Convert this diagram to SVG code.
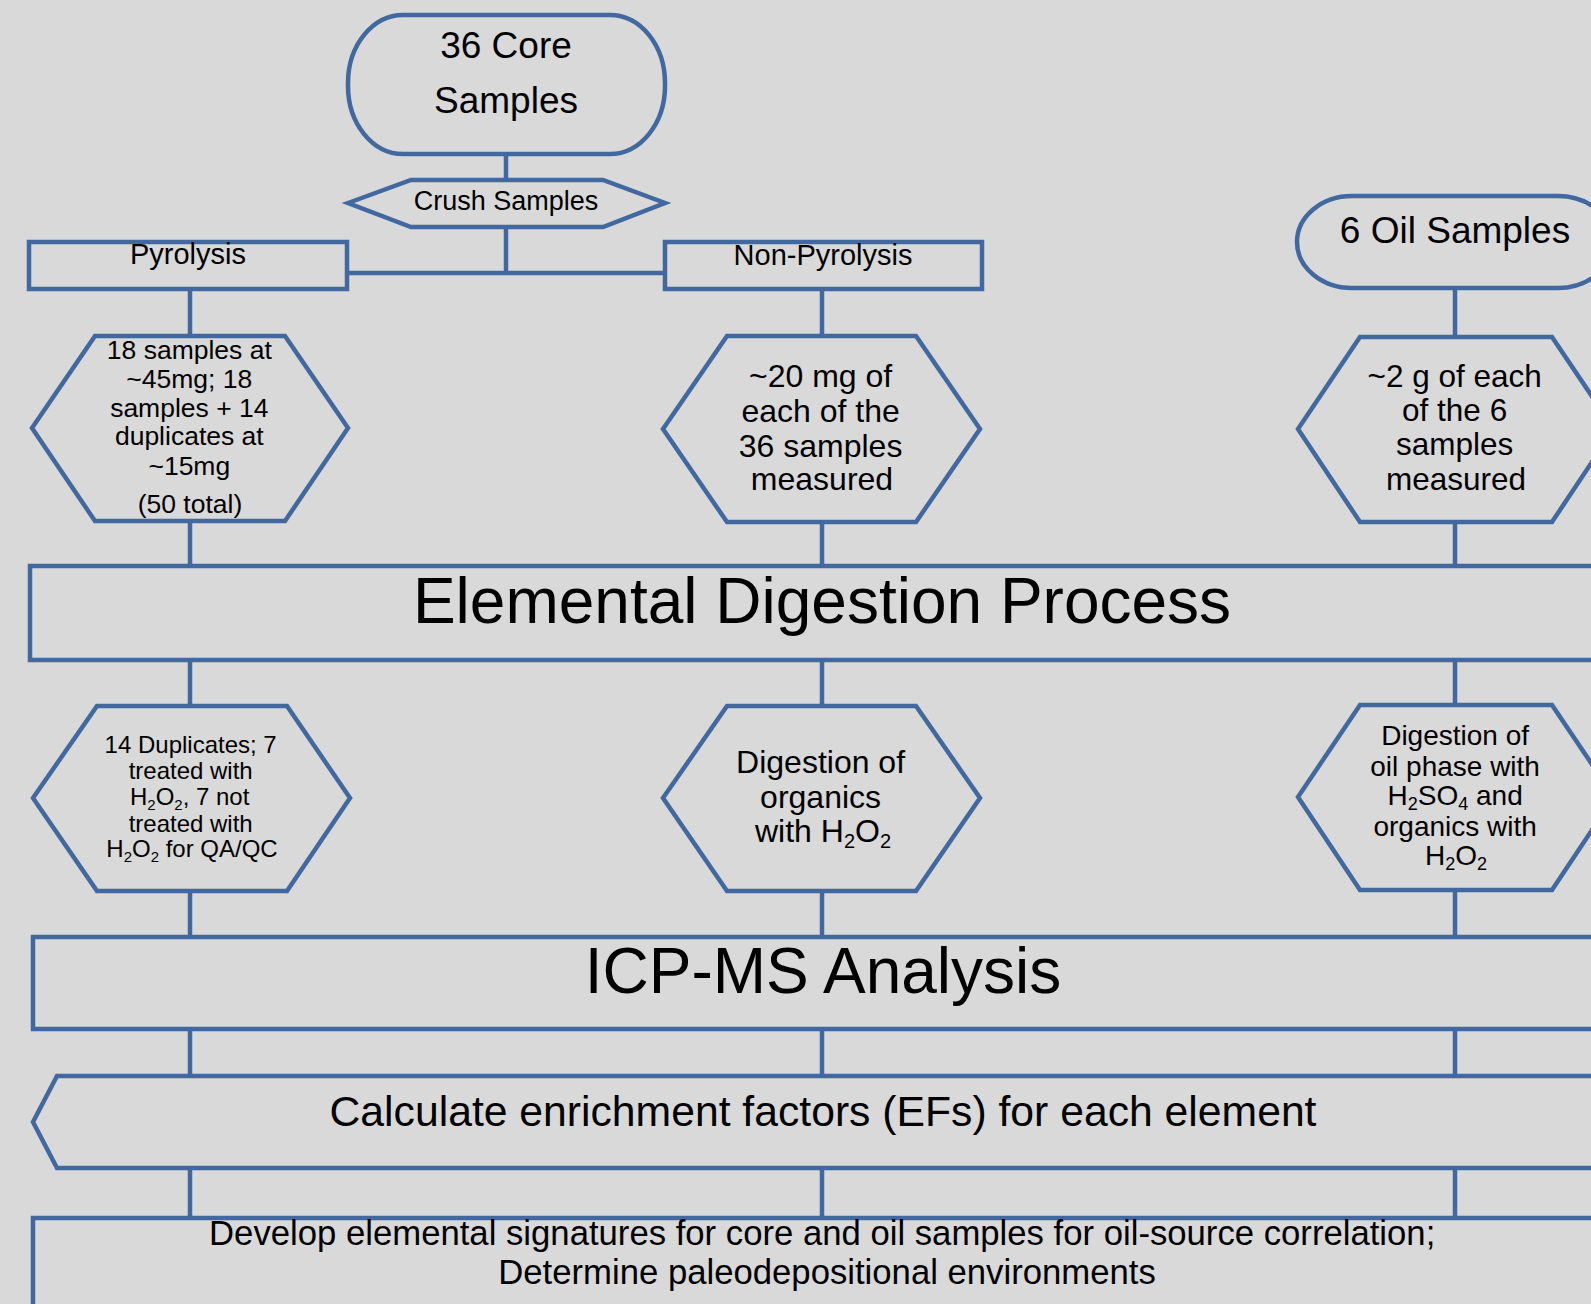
<svg xmlns="http://www.w3.org/2000/svg" width="1591" height="1304" viewBox="0 0 1591 1304">
<style>
.s{fill:#d9d9d9;stroke:#41699f;stroke-width:4.5;stroke-linejoin:miter}
.c line{stroke:#41699f;stroke-width:4.5}
text{font-family:"Liberation Sans",Arial,sans-serif;fill:#000;text-anchor:middle}
</style>
<rect width="1591" height="1304" fill="#d9d9d9"/>
<g class="c" id="connectors">
<line x1="506" y1="154" x2="506" y2="180"/>
<line x1="506" y1="227" x2="506" y2="273"/>
<line x1="347" y1="273" x2="665" y2="273"/>
<line x1="190" y1="290" x2="190" y2="336"/>
<line x1="822" y1="290" x2="822" y2="336"/>
<line x1="1455" y1="288" x2="1455" y2="337"/>
<line x1="190" y1="521" x2="190" y2="566"/>
<line x1="822" y1="522" x2="822" y2="566"/>
<line x1="1455" y1="522" x2="1455" y2="566"/>
<line x1="190" y1="660" x2="190" y2="706"/>
<line x1="822" y1="660" x2="822" y2="706"/>
<line x1="1455" y1="660" x2="1455" y2="705"/>
<line x1="190" y1="891" x2="190" y2="937"/>
<line x1="822" y1="891" x2="822" y2="937"/>
<line x1="1455" y1="890" x2="1455" y2="937"/>
<line x1="190" y1="1029" x2="190" y2="1076"/>
<line x1="822" y1="1029" x2="822" y2="1076"/>
<line x1="1455" y1="1029" x2="1455" y2="1076"/>
<line x1="190" y1="1168" x2="190" y2="1218"/>
<line x1="822" y1="1168" x2="822" y2="1218"/>
<line x1="1455" y1="1168" x2="1455" y2="1218"/>
</g>
<g id="core">
<rect class="s" x="348" y="15" width="317" height="139" rx="55" ry="68"/>
<text x="506" y="58" font-size="37">36 Core</text>
<text x="506" y="113" font-size="37">Samples</text>
</g>
<g id="crush">
<polygon class="s" points="348,203 411,180 603,180 665,203 603,227 411,227"/>
<text x="506" y="210" font-size="27">Crush Samples</text>
</g>
<g id="pyrolysis">
<rect class="s" x="29" y="242" width="318" height="47"/>
<text x="188" y="264" font-size="29">Pyrolysis</text>
</g>
<g id="nonpyrolysis">
<rect class="s" x="665" y="242" width="317" height="47"/>
<text x="823" y="265" font-size="29">Non-Pyrolysis</text>
</g>
<g id="oil">
<rect class="s" x="1297" y="196" width="316" height="92" rx="55" ry="46"/>
<text x="1455" y="243" font-size="37">6 Oil Samples</text>
</g>
<g id="pyro-mass">
<polygon class="s" points="32,428 95,336 285,336 348,428 285,521 95,521"/>
<text font-size="26.5">
<tspan x="193" y="359">18 samples at</tspan>
<tspan x="193" y="388">~45mg; 18</tspan>
<tspan x="193" y="417">samples + 14</tspan>
<tspan x="193" y="445">duplicates at</tspan>
<tspan x="193" y="475">~15mg</tspan>
<tspan x="190" y="513">(50 total)</tspan>
</text>
</g>
<g id="nonpyro-mass">
<polygon class="s" points="663,429 727,336 916,336 980,429 916,522 727,522"/>
<text font-size="32">
<tspan x="825" y="387">~20 mg of</tspan>
<tspan x="825" y="422">each of the</tspan>
<tspan x="825" y="457">36 samples</tspan>
<tspan x="822" y="490">measured</tspan>
</text>
</g>
<g id="oil-mass">
<polygon class="s" points="1298,429 1360,337 1552,337 1614,429 1552,522 1360,522"/>
<text font-size="31.5">
<tspan x="1459" y="387">~2 g of each</tspan>
<tspan x="1459" y="421">of the 6</tspan>
<tspan x="1459" y="455">samples</tspan>
<tspan x="1456" y="490">measured</tspan>
</text>
</g>
<g id="digestion">
<rect class="s" x="30" y="566" width="1600" height="94"/>
<text x="822" y="623" font-size="64">Elemental Digestion Process</text>
</g>
<g id="pyro-dup">
<polygon class="s" points="33,798 97,706 287,706 350,798 287,891 97,891"/>
<text font-size="24">
<tspan x="194" y="753">14 Duplicates; 7</tspan>
<tspan x="194" y="779">treated with</tspan>
<tspan x="193" y="805">H<tspan font-size="15" dy="5">2</tspan><tspan dy="-5">O</tspan><tspan font-size="15" dy="5">2</tspan><tspan dy="-5">, 7 not</tspan></tspan>
<tspan x="194" y="832">treated with</tspan>
<tspan x="192" y="857">H<tspan font-size="15" dy="5">2</tspan><tspan dy="-5">O</tspan><tspan font-size="15" dy="5">2</tspan><tspan dy="-5"> for QA/QC</tspan></tspan>
</text>
</g>
<g id="nonpyro-digest">
<polygon class="s" points="663,798 727,706 916,706 980,798 916,891 727,891"/>
<text font-size="32">
<tspan x="825" y="773">Digestion of</tspan>
<tspan x="825" y="808">organics</tspan>
<tspan x="823" y="842">with H<tspan font-size="20" dy="6">2</tspan><tspan dy="-6">O</tspan><tspan font-size="20" dy="6">2</tspan></tspan>
</text>
</g>
<g id="oil-digest">
<polygon class="s" points="1298,797 1360,705 1552,705 1614,797 1552,890 1360,890"/>
<text font-size="28">
<tspan x="1459" y="745">Digestion of</tspan>
<tspan x="1459" y="776">oil phase with</tspan>
<tspan x="1459" y="805">H<tspan font-size="18" dy="5">2</tspan><tspan dy="-5">SO</tspan><tspan font-size="18" dy="5">4</tspan><tspan dy="-5"> and</tspan></tspan>
<tspan x="1459" y="836">organics with</tspan>
<tspan x="1456" y="865">H<tspan font-size="18" dy="5">2</tspan><tspan dy="-5">O</tspan><tspan font-size="18" dy="5">2</tspan></tspan>
</text>
</g>
<g id="icpms">
<rect class="s" x="33" y="937" width="1600" height="92"/>
<text x="823" y="993" font-size="64">ICP-MS Analysis</text>
</g>
<g id="calculate">
<polygon class="s" points="33,1122 57,1076 1620,1076 1644,1122 1620,1168 57,1168"/>
<text x="823" y="1126" font-size="42.7">Calculate enrichment factors (EFs) for each element</text>
</g>
<g id="develop">
<rect class="s" x="33" y="1218" width="1600" height="120"/>
<text font-size="34.7">
<tspan x="827" y="1245">Develop elemental signatures for core and oil samples for oil-source correlation;</tspan>
<tspan x="827" y="1284">Determine paleodepositional environments</tspan>
</text>
</g>
</svg>
